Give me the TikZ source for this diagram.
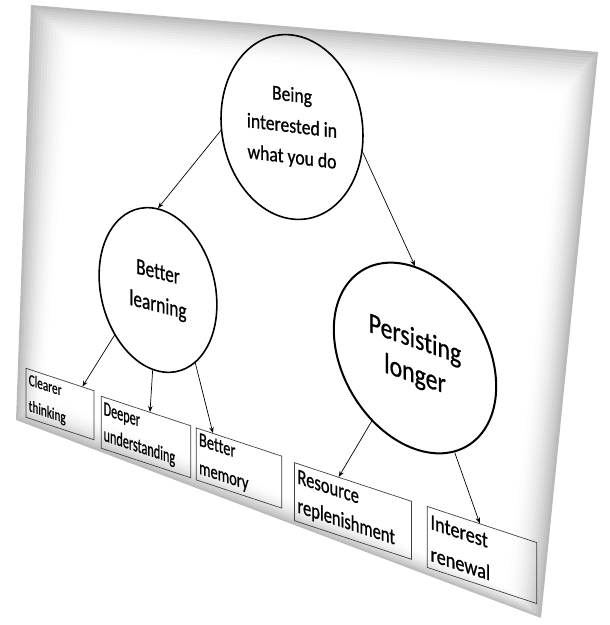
\documentclass[tikz,border=0pt]{standalone}
\usepackage{fontspec}
\setmainfont{Carlito}[Ligatures=NoCommon,FakeBold=0.8]
\usetikzlibrary{arrows.meta, shapes.geometric, calc}

\begin{document}
\begin{tikzpicture}[x=1pt,y=-1pt,>={Stealth[length=6pt,width=4.5pt]},
		bubble/.style={draw,ellipse,line width=1.6pt,inner sep=0pt,align=center},
		leaf/.style={draw=black!75,rectangle,line width=0.7pt,align=left,inner xsep=4pt,inner ysep=0pt,yslant=-0.33},
		link/.style={->,line width=0.7pt}]
			\useasboundingbox (0,0) rectangle (610,625);
			% the sheet, grey towards its edges
			\coordinate (a) at (31,5);   \coordinate (ai) at (75,45);
			\coordinate (b) at (598,52); \coordinate (bi) at (560,95);
			\coordinate (c) at (541,618); \coordinate (ci) at (505,585);
			\coordinate (d) at (16,420); \coordinate (di) at (45,395);
			\foreach \i [evaluate=\i as \t using \i/14, evaluate=\i as \c using 27*(1-\i/14)^2] in {0,...,14}
				\fill[black!\c] ($(a)!\t!(ai)$) -- ($(b)!\t!(bi)$) -- ($(c)!\t!(ci)$) -- ($(d)!\t!(di)$) -- cycle;

			\node[bubble,yslant=-0.12,xscale=0.84,minimum width=169pt,minimum height=184pt,font=\fontsize{21}{31}\selectfont] (being) at (292,127) {Being\\interested in\\what you do};
			\node[bubble,yslant=-0.25,xscale=0.75,minimum width=157pt,minimum height=162pt,font=\fontsize{23}{33}\selectfont] (learning) at (158,290) {Better\\learning};
			\node[bubble,line width=2pt,yslant=-0.35,xscale=0.82,minimum width=198pt,minimum height=182pt,font=\fontsize{29}{35}\selectfont] (persisting) at (415,358) {Persisting\\longer};

			\node[leaf,xscale=0.68,text width=92pt,minimum height=49pt,font=\fontsize{16.5}{26}\selectfont] (clearer) at (60,404) {Clearer\\thinking};
			\node[leaf,xscale=0.61,text width=139pt,minimum height=52pt,font=\fontsize{20}{26}\selectfont] (deeper) at (146,437) {Deeper\\understanding};
			\node[leaf,xscale=0.72,text width=111pt,minimum height=52pt,font=\fontsize{20}{28}\selectfont] (memory) at (239,468) {Better\\memory};
			\node[leaf,xscale=0.75,text width=148pt,minimum height=58pt,font=\fontsize{22}{29}\selectfont] (resource) at (353,511) {Resource\\replenishment};
			\node[leaf,xscale=0.83,text width=124pt,minimum height=61pt,font=\fontsize{22}{32}\selectfont] (renewal) at (482,555) {Interest\\renewal};

			\draw[link] (being.188) -- (learning.north);
			\draw[link] (being.349) -- (persisting.north);
			\draw[link] (learning.224) -- (clearer.37);
			\draw[link] (learning.265) -- (deeper.76);
			\draw[link] (learning.308) -- (memory.144);
			\draw[link] (persisting.236) -- (resource.123);
			\draw[link] (persisting.301) -- (renewal.95);
		\end{tikzpicture}
\end{document}
